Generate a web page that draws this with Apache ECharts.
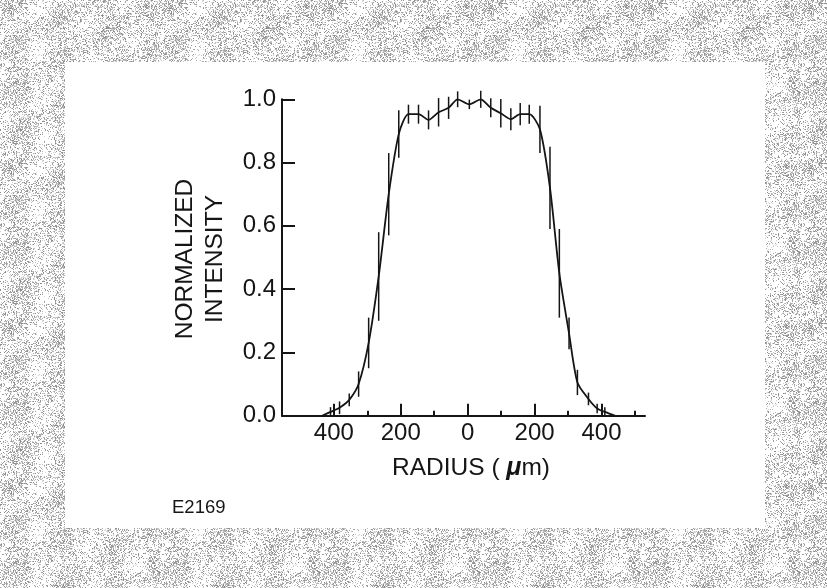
<!DOCTYPE html>
<html>
<head>
<meta charset="utf-8">
<script src="https://cdn.jsdelivr.net/npm/echarts@6/dist/echarts.min.js"></script>
<style>
html,body{margin:0;padding:0;background:#fff;}
#chart{width:827px;height:588px;}
</style>
</head>
<body>
<div id="chart"></div>
<script>
// Radius positions (micrometres) of the measured points
const radius = [-435, -410, -383, -354, -326, -296, -266, -236, -206, -177, -147, -117, -87, -57, -30, 5, 39, 69, 99, 129, 157, 184, 216, 246, 274, 303, 328, 361, 387, 410, 440];
// Normalized intensity at each point
const intensity = [0.0, 0.012, 0.025, 0.05, 0.10, 0.23, 0.44, 0.70, 0.89, 0.953, 0.953, 0.935, 0.959, 0.973, 1.0, 0.984, 1.0, 0.973, 0.956, 0.937, 0.953, 0.953, 0.905, 0.72, 0.45, 0.26, 0.105, 0.053, 0.023, 0.012, 0.0];
// Half-length of each error bar
const errHalf = [0.0, 0.015, 0.02, 0.02, 0.04, 0.08, 0.14, 0.13, 0.075, 0.03, 0.03, 0.03, 0.045, 0.035, 0.025, 0.015, 0.027, 0.03, 0.045, 0.035, 0.035, 0.03, 0.075, 0.13, 0.14, 0.05, 0.04, 0.02, 0.015, 0.015, 0.0];
// Tick labels / positions
const xMajorTicks = [-400, -200, 0, 200, 400];
const xMinorTicks = [-300, -100, 100, 300, 500];
const yTicks = [0, 0.2, 0.4, 0.6, 0.8, 1.0];

const FONT = '"Liberation Sans", Arial, Helvetica, sans-serif';
const INK = '#151515';

// decorative dithered border texture (deterministic hash, not data)
function makeTexture() {
  const c = document.createElement('canvas');
  c.width = 160; c.height = 160;
  const g = c.getContext('2d');
  g.fillStyle = '#ffffff'; g.fillRect(0, 0, 160, 160);
  for (let y = 0; y < 160; y++) {
    for (let x = 0; x < 160; x++) {
      let h = (x * 374761393 + y * 668265263) ^ 0x5bd1e995;
      h = Math.imul(h ^ (h >>> 13), 1274126177);
      h = (h ^ (h >>> 16)) >>> 0;
      const v = (h % 1000) / 1000;
      const band = 0.36 + 0.22 * Math.sin((x + y * 0.6) / 9) * Math.cos((y - x * 0.3) / 13);
      if (v < band) {
        const shade = 135 + (h >>> 10) % 85;
        g.fillStyle = 'rgb(' + shade + ',' + shade + ',' + shade + ')';
        g.fillRect(x, y, 1, 1);
      }
    }
  }
  return c;
}

const chart = echarts.init(document.getElementById('chart'), null, {renderer: 'canvas'});

const lineData = radius.map((r, i) => [r, intensity[i]]);
const errData = radius.map((r, i) => [r, intensity[i] - errHalf[i], intensity[i] + errHalf[i]]).filter(d => d[2] - d[1] > 0);

const option = {
  animation: false,
  backgroundColor: {image: makeTexture(), repeat: 'repeat'},
  graphic: [
    {type: 'rect', z: -10, shape: {x: 65, y: 62, width: 700, height: 466}, style: {fill: '#ffffff'}},
    {type: 'group', children: [
      {type: 'text', x: 185, y: 259, rotation: Math.PI / 2, style: {text: 'NORMALIZED', font: '24.5px ' + FONT, fill: INK, align: 'center', verticalAlign: 'middle'}},
      {type: 'text', x: 215, y: 259, rotation: Math.PI / 2, style: {text: 'INTENSITY', font: '24.5px ' + FONT, fill: INK, align: 'center', verticalAlign: 'middle'}}
    ]},
    {type: 'text', x: 471, y: 468, style: {
      text: '{t|RADIUS ( }{mu|μ}{t|m)}',
      align: 'center', verticalAlign: 'middle',
      rich: {
        t: {font: '24.5px ' + FONT, fill: INK},
        mu: {font: 'italic bold 25px ' + FONT, fill: INK}
      }
    }},
    {type: 'text', x: 172, y: 508, style: {text: 'E2169', font: '18.5px ' + FONT, fill: INK, verticalAlign: 'middle'}}
  ],
  grid: {left: 282, top: 99.3, width: 363, height: 316.4, containLabel: false},
  xAxis: [
    {
      type: 'value', gridIndex: 0, min: -555, max: 530, position: 'bottom',
      axisLine: {show: true, onZero: false, lineStyle: {color: INK, width: 2}},
      axisTick: {show: true, inside: true, length: 12, customValues: xMajorTicks, lineStyle: {color: INK, width: 2}},
      axisLabel: {show: true, customValues: xMajorTicks, formatter: v => String(Math.abs(v)), fontSize: 24, fontFamily: FONT, color: INK, margin: 6},
      splitLine: {show: false}
    },
    {
      type: 'value', gridIndex: 0, min: -555, max: 530, position: 'bottom',
      axisLine: {show: false, onZero: false},
      axisTick: {show: true, inside: true, length: 5, customValues: xMinorTicks, lineStyle: {color: INK, width: 2}},
      axisLabel: {show: false},
      splitLine: {show: false}
    }
  ],
  yAxis: {
    type: 'value', min: 0, max: 1, interval: 0.2,
    axisLine: {show: true, onZero: false, lineStyle: {color: INK, width: 2}},
    axisTick: {show: true, inside: true, length: 13, lineStyle: {color: INK, width: 2}},
    axisLabel: {formatter: v => v.toFixed(1), fontSize: 24, fontFamily: FONT, color: INK, margin: 6},
    splitLine: {show: false}
  },
  series: [
    {
      type: 'line', xAxisIndex: 0, data: lineData, smooth: 0.25, symbol: 'none',
      lineStyle: {color: INK, width: 1.8}, z: 3
    },
    {
      type: 'custom', xAxisIndex: 0, data: errData, z: 4,
      renderItem: function (params, api) {
        const p1 = api.coord([api.value(0), api.value(1)]);
        const p2 = api.coord([api.value(0), api.value(2)]);
        return {type: 'line', shape: {x1: p1[0], y1: p1[1], x2: p2[0], y2: p2[1]}, style: {stroke: INK, lineWidth: 1.5}};
      }
    }
  ]
};
chart.setOption(option);
</script>
</body>
</html>
